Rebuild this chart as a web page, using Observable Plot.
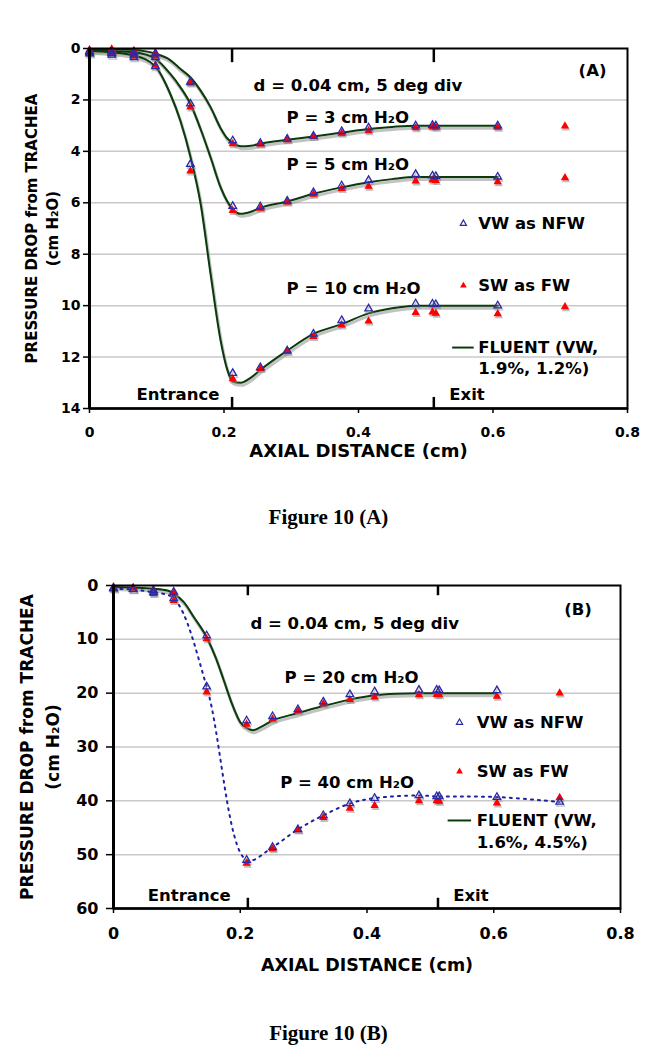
<!DOCTYPE html>
<html><head><meta charset="utf-8">
<script src="https://cdn.jsdelivr.net/npm/d3@7"></script>
<script src="https://cdn.jsdelivr.net/npm/@observablehq/plot@0.6"></script>
<style>
body{margin:0;background:#fff;width:657px;height:1050px;position:relative;overflow:hidden}
#a{position:absolute;left:0;top:0}
#b{position:absolute;left:0;top:540px}
.cap{position:absolute;left:0;width:657px;text-align:center;font-family:"Liberation Serif",serif;font-weight:bold;font-size:21px;line-height:24px}
</style></head><body>
<div id="a"></div><div class="cap" style="top:505px">Figure 10 (A)</div>
<div id="b"></div><div class="cap" style="top:1021px">Figure 10 (B)</div>
<script>
// ---------- Panel A data ----------
const xA    = [0, 0.033, 0.066, 0.098, 0.15, 0.213, 0.254, 0.294, 0.333, 0.375, 0.415, 0.485, 0.51, 0.515, 0.607, 0.707];
const vwA3  = [0.1, 0.12, 0.15, 0.2, 1.3, 3.58, 3.68, 3.52, 3.4, 3.22, 3.08, 3.0, 2.98, 3.0, 3.0, null];
const swA3  = [0.05, 0.02, 0.08, 0.17, 1.35, 3.71, 3.72, 3.55, 3.42, 3.3, 3.2, 3.09, 3.05, 3.07, 3.07, 3.02];
const vwA5  = [0.15, 0.18, 0.25, 0.35, 2.15, 6.13, 6.15, 5.93, 5.6, 5.33, 5.12, 4.89, 4.95, 4.97, 4.99, null];
const swA5  = [0.1, 0.1, 0.2, 0.3, 2.28, 6.3, 6.22, 5.97, 5.67, 5.45, 5.36, 5.16, 5.12, 5.14, 5.19, 5.03];
const vwA10 = [0.2, 0.25, 0.35, 0.7, 4.5, 12.63, 12.4, 11.75, 11.1, 10.57, 10.12, 9.92, 9.93, 9.95, 10.0, null];
const swA10 = [0.15, 0.15, 0.3, 0.65, 4.77, 12.85, 12.45, 11.78, 11.2, 10.76, 10.6, 10.27, 10.25, 10.3, 10.32, 10.05];
// FLUENT curves (A)
const fxA   = [0, 0.033, 0.066, 0.098, 0.12, 0.135, 0.15, 0.165, 0.18, 0.195, 0.205, 0.213, 0.225, 0.24, 0.254, 0.294, 0.333, 0.375, 0.415, 0.45, 0.485, 0.51, 0.55, 0.607];
const fA3   = [0.02, 0.03, 0.06, 0.2, 0.45, 0.79, 1.12, 1.63, 2.28, 3.1, 3.5, 3.66, 3.8, 3.78, 3.7, 3.55, 3.42, 3.27, 3.13, 3.05, 3.0, 3.0, 3.0, 3.0];
const fA5   = [0.08, 0.1, 0.15, 0.4, 0.98, 1.5, 2.15, 3.12, 4.23, 5.4, 5.95, 6.25, 6.43, 6.35, 6.2, 5.95, 5.65, 5.4, 5.2, 5.08, 5.0, 5.0, 5.0, 5.0];
const fA10  = [0.1, 0.15, 0.27, 0.7, 1.76, 2.8, 4.2, 6.0, 8.76, 11.36, 12.5, 12.95, 13.0, 12.8, 12.5, 11.75, 11.1, 10.72, 10.3, 10.1, 10.0, 10.0, 10.0, 10.0];

// ---------- Panel B data ----------
const xB    = [0, 0.031, 0.063, 0.095, 0.147, 0.21, 0.251, 0.291, 0.331, 0.373, 0.412, 0.482, 0.51, 0.514, 0.605, 0.704];
const vwB20 = [0.5, 0.7, 0.9, 1.2, 9.3, 25.1, 24.3, 23.0, 21.6, 20.25, 19.7, 19.4, 19.4, 19.5, 19.5, null];
const swB20 = [0.3, 0.4, 0.85, 1.4, 9.9, 25.8, 24.8, 23.3, 22.0, 21.2, 20.75, 20.3, 20.25, 20.3, 20.6, 20.0];
const vwB40 = [0.6, 0.75, 1.3, 2.4, 18.8, 51.0, 48.6, 45.3, 42.7, 40.5, 39.5, 39.0, 39.2, 39.2, 39.3, 40.2];
const swB40 = [0.3, 0.5, 1.5, 2.8, 19.8, 51.6, 48.9, 45.4, 43.1, 41.4, 40.9, 40.0, 40.0, 40.1, 40.4, 39.4];
const fxB   = [0, 0.031, 0.063, 0.085, 0.095, 0.111, 0.127, 0.147, 0.161, 0.174, 0.187, 0.2, 0.211, 0.22, 0.232, 0.251, 0.291, 0.331, 0.373, 0.412, 0.447, 0.482, 0.51, 0.605];
const fB20  = [0.3, 0.4, 0.6, 0.93, 1.5, 3.1, 5.9, 9.6, 13.3, 17.6, 22.0, 25.4, 26.5, 26.9, 26.3, 25.1, 23.7, 22.4, 21.2, 20.4, 20.1, 20.0, 20.0, 20.0];

// ---------- ticks / labels ----------
const xTicks  = [0, 0.2, 0.4, 0.6, 0.8];
const yTicksA = [0, 2, 4, 6, 8, 10, 12, 14];
const yTicksB = [0, 10, 20, 30, 40, 50, 60];
const gates   = [0.212, 0.512];   // Entrance / Exit

const FONT = "DejaVu Sans";
const GREEN = "#0b3a0b", BLUE = "#2a2aa8", RED = "#ff0000";

function pts(xs, arrs) {
  const out = [];
  arrs.forEach((ys, k) => xs.forEach((x, i) => { if (ys[i] != null) out.push({x, y: ys[i], k}); }));
  return out;
}
function lbl(t, x, y, o = {}) {
  return Plot.text([t], {x: () => x, y: () => y, text: d => d, textAnchor: "start", fontSize: 16.5, fontWeight: "bold", fill: "black", ...o});
}
function markersMarks(vw, sw) {
  return [
    Plot.dot(sw, {x: "x", y: "y", symbol: "triangle", r: 3.1, fill: "#8a8a8a", fillOpacity: 0.55, dx: 1, dy: 2}),
    Plot.dot(vw, {x: "x", y: "y", symbol: "triangle", r: 2.8, stroke: "#8a8a8a", strokeOpacity: 0.5, strokeWidth: 1.3, fill: "none", dx: 1, dy: 2}),
    Plot.dot(sw, {x: "x", y: "y", symbol: "triangle", r: 3.1, fill: RED}),
    Plot.dot(vw, {x: "x", y: "y", symbol: "triangle", r: 2.8, stroke: BLUE, strokeWidth: 1.3, fill: "none"})
  ];
}
function yTitle(t, dx, fs) {
  return Plot.text([t], {text: d => d, frameAnchor: "left", textAnchor: "middle", rotate: -90, dx, fontSize: fs, fontWeight: "bold"});
}

// ---------- Panel A ----------
const vwA = pts(xA, [vwA3, vwA5, vwA10]);
const swA = pts(xA, [swA3, swA5, swA10]);
const flA = pts(fxA, [fA3, fA5, fA10]);

const chartA = Plot.plot({
  width: 657, height: 480,
  marginTop: 48, marginBottom: 72, marginLeft: 89, marginRight: 30,
  style: {fontFamily: FONT, fontWeight: "bold", color: "black", background: "white", overflow: "visible"},
  x: {domain: [0, 0.8]},
  y: {domain: [0, 14], reverse: true},
  marks: [
    Plot.gridY(yTicksA.slice(1, -1), {stroke: "#c8c8c8", strokeOpacity: 1, strokeWidth: 1.5}),
    Plot.line(flA, {x: "x", y: "y", z: "k", curve: "monotone-x", stroke: "#9a9a9a", strokeOpacity: 0.6, strokeWidth: 3, dx: 1, dy: 2.5}),
    Plot.line(flA, {x: "x", y: "y", z: "k", curve: "monotone-x", stroke: GREEN, strokeWidth: 2}),
    ...markersMarks(vwA, swA),
    Plot.frame({stroke: "black", strokeWidth: 2}),
    Plot.ruleX([0], {stroke: "black", strokeWidth: 3}),
    Plot.ruleY([14], {stroke: "black", strokeWidth: 2.5}),
    Plot.ruleX(gates, {y1: () => 0, y2: () => 0.55, stroke: "black", strokeWidth: 2.5}),
    Plot.ruleX(gates, {y1: () => 13.57, y2: () => 14, stroke: "black", strokeWidth: 2.5}),
    Plot.axisX(xTicks, {tickSize: 5, tickPadding: 14, fontSize: 14, fontWeight: "bold", strokeWidth: 1.5, label: null, tickFormat: d => String(d)}),
    Plot.axisY(yTicksA, {tickSize: 6, tickPadding: 3, fontSize: 14, fontWeight: "bold", strokeWidth: 1.5, label: null, tickFormat: d => String(d)}),
    Plot.text(["AXIAL DISTANCE (cm)"], {frameAnchor: "bottom", dy: 48, fontSize: 18, fontWeight: "bold"}),
    yTitle("PRESSURE DROP from TRACHEA", -57, 15),
    yTitle("(cm H₂O)", -36, 15),
    lbl("d = 0.04 cm, 5 deg div", 0.244, 1.44),
    lbl("P = 3 cm H₂O", 0.293, 2.68),
    lbl("P = 5 cm H₂O", 0.293, 4.51),
    lbl("P = 10 cm H₂O", 0.293, 9.33),
    lbl("(A)", 0.748, 0.86, {textAnchor: "middle"}),
    lbl("Entrance", 0.07, 13.46),
    lbl("Exit", 0.535, 13.46),
    Plot.dot([0], {x: () => 0.556, y: () => 6.81, symbol: "triangle", r: 2.3, stroke: BLUE, strokeWidth: 1.2, fill: "none"}),
    lbl("VW as NFW", 0.578, 6.81),
    Plot.dot([0], {x: () => 0.556, y: () => 9.22, symbol: "triangle", r: 2.5, fill: RED}),
    lbl("SW as FW", 0.578, 9.22),
    Plot.ruleY([11.63], {x1: () => 0.54, x2: () => 0.572, stroke: GREEN, strokeWidth: 2}),
    lbl("FLUENT (VW,", 0.578, 11.63),
    lbl("1.9%, 1.2%)", 0.578, 12.45)
  ]
});
document.getElementById("a").append(chartA);

// ---------- Panel B ----------
const vwB = pts(xB, [vwB20, vwB40]);
const swB = pts(xB, [swB20, swB40]);
const flB = pts(fxB, [fB20]);
const dotB = pts(xB, [vwB40]);

const chartB = Plot.plot({
  width: 657, height: 450,
  marginTop: 45, marginBottom: 82, marginLeft: 113, marginRight: 37,
  style: {fontFamily: FONT, fontWeight: "bold", color: "black", background: "white", overflow: "visible"},
  x: {domain: [0, 0.8]},
  y: {domain: [0, 60], reverse: true},
  marks: [
    Plot.gridY(yTicksB.slice(1, -1), {stroke: "#c8c8c8", strokeOpacity: 1, strokeWidth: 1.5}),
    Plot.line(flB, {x: "x", y: "y", curve: "monotone-x", stroke: "#9a9a9a", strokeOpacity: 0.6, strokeWidth: 3, dx: 1, dy: 2.5}),
    Plot.line(flB, {x: "x", y: "y", curve: "monotone-x", stroke: GREEN, strokeWidth: 2}),
    Plot.line(dotB, {x: "x", y: "y", curve: "catmull-rom", stroke: "#1f1fa0", strokeWidth: 2, strokeDasharray: "2,5"}),
    ...markersMarks(vwB, swB),
    Plot.frame({stroke: "black", strokeWidth: 2}),
    Plot.ruleX([0], {stroke: "black", strokeWidth: 3}),
    Plot.ruleY([60], {stroke: "black", strokeWidth: 2.5}),
    Plot.ruleX(gates, {y1: () => 0, y2: () => 1.9, stroke: "black", strokeWidth: 2.5}),
    Plot.ruleX(gates, {y1: () => 58.1, y2: () => 60, stroke: "black", strokeWidth: 2.5}),
    Plot.axisX(xTicks, {tickSize: 5, tickPadding: 14, fontSize: 16, fontWeight: "bold", strokeWidth: 1.5, label: null, tickFormat: d => String(d)}),
    Plot.axisY(yTicksB, {tickSize: 7, tickPadding: 8, fontSize: 16, fontWeight: "bold", strokeWidth: 1.5, label: null, tickFormat: d => String(d)}),
    Plot.text(["AXIAL DISTANCE (cm)"], {frameAnchor: "bottom", dy: 62, fontSize: 17.5, fontWeight: "bold"}),
    yTitle("PRESSURE DROP from TRACHEA", -86, 17),
    yTitle("(cm H₂O)", -60, 17),
    lbl("d = 0.04 cm, 5 deg div", 0.216, 7.06),
    lbl("P = 20 cm H₂O", 0.27, 17.1),
    lbl("P = 40 cm H₂O", 0.263, 36.6),
    lbl("(B)", 0.733, 4.46, {textAnchor: "middle"}),
    lbl("Entrance", 0.054, 57.6),
    lbl("Exit", 0.536, 57.6),
    Plot.dot([0], {x: () => 0.546, y: () => 25.45, symbol: "triangle", r: 2.3, stroke: BLUE, strokeWidth: 1.2, fill: "none"}),
    lbl("VW as NFW", 0.573, 25.45),
    Plot.dot([0], {x: () => 0.546, y: () => 34.55, symbol: "triangle", r: 2.5, fill: RED}),
    lbl("SW as FW", 0.573, 34.55),
    Plot.ruleY([43.65], {x1: () => 0.528, x2: () => 0.565, stroke: GREEN, strokeWidth: 2}),
    lbl("FLUENT (VW,", 0.573, 43.65),
    lbl("1.6%, 4.5%)", 0.573, 47.74)
  ]
});
document.getElementById("b").append(chartB);
</script>
</body></html>
